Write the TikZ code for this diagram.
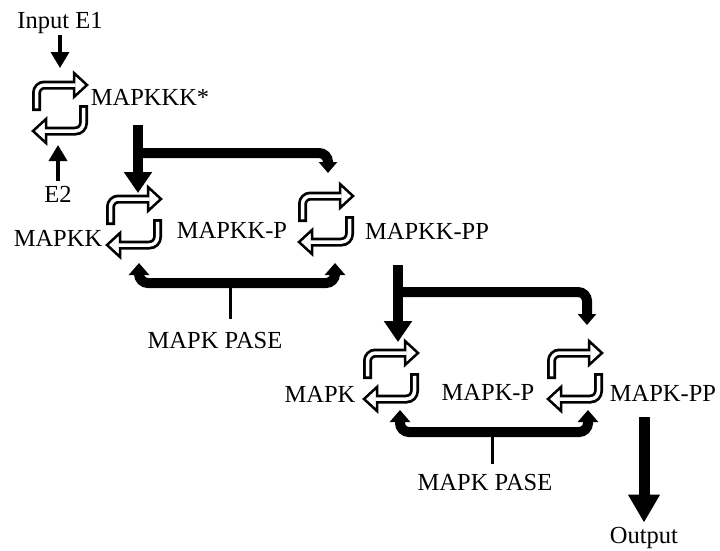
\documentclass[tikz,border=0pt]{standalone}
\usepackage{fontspec}
\setmainfont{Liberation Serif}
\usetikzlibrary{arrows.meta}
\tikzset{
  lbl/.style={inner sep=0pt, anchor=base, font=\fontsize{24.5}{29}\selectfont},
  fat/.style={line width=10pt},
  bigtip/.style={-{Triangle[width=27pt,length=21pt]}},
  smalltip/.style={-{Triangle[width=18pt,length=11pt]}},
  bracket/.style={line width=10pt, rounded corners=9pt,
    {Triangle[width=20pt,length=12pt]}-{Triangle[width=20pt,length=12pt]}},
  stem/.style={line width=3pt},
  thinarr/.style={line width=3.5pt, -{Triangle[width=18pt,length=16pt]}},
  bentarr/.pic={
    \draw[line width=9pt, rounded corners=8pt] (-23.5,3) -- (-23.5,-23) -- (14,-23);
    \draw[line width=2.5pt, fill=white, line join=miter] (14,-35) -- (27,-23) -- (14,-11) -- cycle;
    \draw[line width=3.5pt, white, rounded corners=8pt, shorten <=2.75pt] (-23.5,3) -- (-23.5,-23) -- (15.6,-23);
  },
  cycicon/.pic={
    \pic {bentarr};
    \pic[rotate=180] {bentarr};
  }
}
\begin{document}
\begin{tikzpicture}[x=1pt,y=-1pt]
\fill[white] (0,0) rectangle (720,550);
\useasboundingbox (0,0) rectangle (720,550);

% cycle icons
\coordinate (c1) at (60,108);
\coordinate (c2) at (134,222);
\coordinate (c3) at (326,219);
\coordinate (c4) at (391,376);
\coordinate (c5) at (575,376);
\foreach \c in {c1,c2,c3,c4,c5} \pic at (\c) {cycicon};

% labels
\node[lbl] (inE1) at (60,28) {Input E1};
\node[lbl] (kkks) at (150,105) {MAPKKK*};
\node[lbl] (e2) at (58,202) {E2};
\node[lbl] (kk) at (58,246) {MAPKK};
\node[lbl] (kkp) at (232,238) {MAPKK-P};
\node[lbl] (kkpp) at (427,239) {MAPKK-PP};
\node[lbl] (pase1) at (215,348) {MAPK PASE};
\node[lbl] (k) at (320,402) {MAPK};
\node[lbl] (kp) at (488,400) {MAPK-P};
\node[lbl] (kpp) at (663,401) {MAPK-PP};
\node[lbl] (pase2) at (485,490) {MAPK PASE};
\node[lbl] (out) at (644,543) {Output};

% inputs
\coordinate (e1tip) at (60,68);
\draw[thinarr, shorten <=2pt] (inE1.south) -- (e1tip);
\coordinate (e2tip) at (58,145);
\draw[thinarr, shorten <=5pt] (e2.north) -- (e2tip);

% stage 1
\coordinate (s1a) at (138,125);
\coordinate (s1b) at (138,193);
\coordinate (j1) at (138,153);
\coordinate (b1) at (328,173);
\draw[fat, bigtip] (s1a) -- (s1b);
\draw[fat, rounded corners=9pt, smalltip] (j1) -- (b1 |- j1) -- (b1);

\coordinate (p1l) at (139,263);
\coordinate (p1r) at (335,263);
\coordinate (p1m) at (230,283);
\draw[bracket] (p1l) -- (p1l |- p1m) -- (p1r |- p1m) -- (p1r);
\draw[stem, shorten >=13pt] (p1m) -- (pase1.north -| p1m);

% stage 2
\coordinate (s2a) at (398,265);
\coordinate (s2b) at (398,342);
\coordinate (j2) at (398,292);
\coordinate (b2) at (587,325);
\draw[fat, bigtip] (s2a) -- (s2b);
\draw[fat, rounded corners=9pt, smalltip] (j2) -- (b2 |- j2) -- (b2);

\coordinate (p2l) at (400,410);
\coordinate (p2r) at (588,410);
\coordinate (p2m) at (492,432);
\draw[bracket] (p2l) -- (p2l |- p2m) -- (p2r |- p2m) -- (p2r);
\draw[stem, shorten >=10pt] (p2m) -- (pase2.north -| p2m);

% output
\coordinate (o1) at (644,417);
\draw[line width=11pt, -{Triangle[width=30pt,length=28pt]}, shorten >=4pt] (o1) -- (out.north);
\end{tikzpicture}
\end{document}
